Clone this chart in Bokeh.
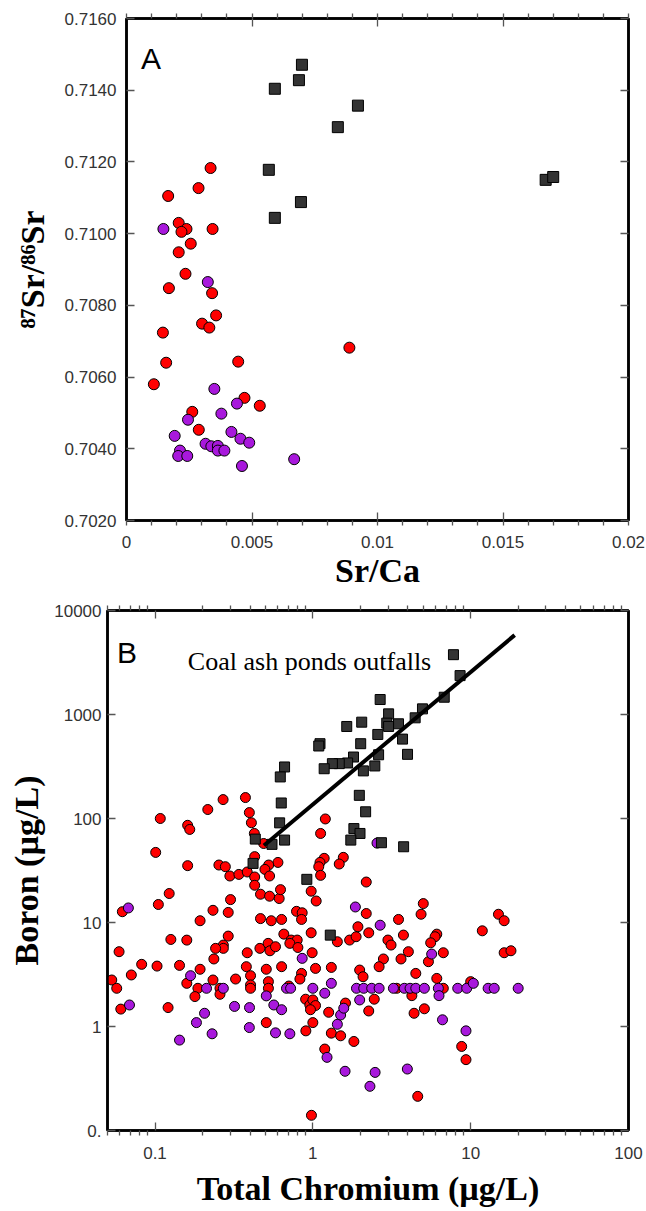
from bokeh.plotting import figure
from bokeh.models import (FixedTicker, CustomJSTickFormatter, Label, LinearAxis,
                          LogAxis, Range1d)
from bokeh.embed import file_html
from bokeh.resources import INLINE

# ---------------- Panel A data (Sr/Ca vs 87Sr/86Sr) ----------------
a_coal_srca = [0.00591, 0.00687, 0.00699, 0.00922, 0.00842, 0.00567, 0.00695, 0.00591, 0.0167, 0.0170]
a_coal_sr = [0.71404, 0.71428, 0.71471, 0.71357, 0.71297, 0.71178, 0.71088, 0.71044, 0.71150, 0.71158]

a_red_srca = [0.00335, 0.00287, 0.00166, 0.00208, 0.00239, 0.00219, 0.00343, 0.00256, 0.00208,
              0.00235, 0.00169, 0.00341, 0.00357, 0.00301, 0.00330, 0.00145, 0.00158, 0.00445,
              0.00109, 0.00888, 0.00470, 0.00531, 0.00262, 0.00288]
a_red_sr = [0.71183, 0.71127, 0.71105, 0.71030, 0.71013, 0.71005, 0.71013, 0.70972, 0.70948,
            0.70888, 0.70848, 0.70834, 0.70772, 0.70749, 0.70738, 0.70724, 0.70640, 0.70643,
            0.70580, 0.70682, 0.70542, 0.70520, 0.70503, 0.70453]

a_pur_srca = [0.00147, 0.00324, 0.00350, 0.00440, 0.00378, 0.00245, 0.00192, 0.00418, 0.00454,
              0.00489, 0.00315, 0.00338, 0.00364, 0.00364, 0.00390, 0.00213, 0.00206, 0.00242,
              0.00460, 0.00668]
a_pur_sr = [0.71013, 0.70865, 0.70567, 0.70526, 0.70498, 0.70481, 0.70436, 0.70447, 0.70428,
            0.70417, 0.70414, 0.70407, 0.70408, 0.70395, 0.70395, 0.70395, 0.70380, 0.70380,
            0.70352, 0.70371]

a_x_ticks = [0, 0.005, 0.01, 0.015, 0.02]
a_x_minor = [0, 0.001, 0.002, 0.003, 0.004, 0.005, 0.006, 0.007, 0.008, 0.009, 0.01,
             0.011, 0.012, 0.013, 0.014, 0.015, 0.016, 0.017, 0.018, 0.019, 0.02]
a_y_ticks = [0.702, 0.704, 0.706, 0.708, 0.710, 0.712, 0.714, 0.716]

# ---------------- Panel B data (Total Cr vs Boron) ----------------
b_coal_cr = [2.04, 1.64, 1.11, 1.09, 2.01, 1.81, 1.66, 1.47, 1.33, 1.18, 2.09, 0.662, 0.622, 0.631,
             1.97, 2.16, 0.616, 1.82, 1.99, 1.74, 0.432, 0.551, 0.662, 0.418, 7.78, 8.57, 6.8,
             4.95, 4.45, 2.67, 3.02, 2.94, 3.49, 3.02, 3.7, 2.58, 3.98, 2.61, 2.47, 2.72, 3.76,
             0.916, 1.29]
b_coal_b = [844, 767, 524, 498, 524, 390, 342, 337, 337, 301, 287, 313, 251, 141,
            167, 116, 90.8, 80, 71.8, 62, 63.4, 56.4, 62, 37, 3760, 2365, 1466,
            1133, 929, 1393, 1014, 826, 814, 768, 580, 643, 414, 410, 320, 58.5, 53.5,
            26, 7.56]

b_red_cr = [0.108, 0.216, 0.270, 0.374, 0.396, 0.408, 0.161, 0.166, 0.426, 1.2, 1.12, 0.488,
            0.101, 0.428, 0.601, 0.525, 0.254, 0.279, 0.161, 1.18, 1.11, 1.09, 1.56, 1.47,
            0.298, 0.34, 0.384, 0.428, 0.428, 0.497, 0.532, 0.466, 0.532, 0.612, 0.624, 1.12,
            0.976, 1.05, 2.18, 0.123, 0.105, 0.0621, 0.301, 0.233, 0.291, 0.193, 0.466, 0.545,
            0.634, 0.788, 0.856, 0.848, 2.18, 0.126, 0.159, 0.291, 0.271, 0.271, 0.242, 0.236,
            0.384, 0.462, 0.521, 0.535, 0.58, 0.655, 0.729, 0.796, 0.715, 0.804, 0.976, 0.99,
            1.43, 1.71, 1.88, 1.93, 2.26, 0.0592, 0.0823, 0.103, 0.143, 0.0708, 0.0532, 0.0572,
            0.0607, 0.121, 0.159, 0.193, 0.187, 0.179, 0.233, 0.258, 0.258, 0.324, 0.379, 0.403,
            0.403, 0.403, 0.507, 0.523, 0.523, 0.634, 1.04, 0.848, 0.828, 0.705, 1.31, 0.9,
            0.957, 1.0, 1.04, 0.966, 0.507, 0.903, 1.0, 1.26, 1.31, 1.5, 1.61, 1.82, 1.19, 0.98,
            1.98, 2.08, 2.26, 3.49, 5.01, 4.85, 3.75, 2.99, 3.13, 4.03, 6.1, 5.95, 5.58, 6.71,
            5.4, 2.8, 2.63, 3.62, 4.49, 6.1, 11.85, 15.0, 16.3, 16.3, 18.0, 10.0, 3.4, 6.71,
            4.24, 2.45, 5.09, 4.38, 8.77, 9.34, 4.62]
b_red_b = [100, 122, 152, 159, 114, 91, 86, 78.5, 71.8, 99, 71.8, 57.5,
           47.2, 43, 37.8, 35.7, 35.7, 34.4, 35.2, 41.4, 37.8, 34.4, 42.3, 36.5,
           28, 29, 30.6, 27.4, 22.8, 32.4, 28, 18.7, 17.9, 17.0, 20.7, 28.4,
           20, 16.1, 24.5, 19, 14.9, 12.7, 16.6, 13.1, 12.5, 10.4, 10.9, 10.4,
           10.7, 12.8, 12.4, 10.7, 12.2, 6.87, 6.77, 7.4, 6.07, 5.64, 5.64, 4.46,
           5.12, 5.64, 6.3, 5.35, 5.85, 7.73, 6.78, 6.78, 6.3, 5.75, 7.96, 5.12,
           6.53, 6.78, 7.3, 9.1, 7.96, 5.24, 3.96, 3.81, 3.87, 3.13, 2.8, 2.33,
           1.47, 1.52, 2.6, 3.55, 2.33, 1.94, 2.8, 2.33, 2.04, 2.86, 3.76, 3.08,
           2.51, 2.33, 3.55, 2.7, 2.33, 3.76, 3.62, 3.24, 2.86, 2.45, 3.7, 1.83,
           1.61, 1.8, 1.59, 1.45, 1.09, 0.908, 1.09, 1.37, 0.863, 0.814, 1.68, 0.718, 0.607, 0.140,
           3.49, 3.01, 1.41, 10.7, 15.2, 12.0, 7.57, 6.78, 6.07, 5.24, 7.73, 7.3, 6.38, 5.12,
           4.2, 4.46, 3.76, 4.46, 3.24, 2.9, 8.32, 12.0, 10.4, 5.12, 5.35, 2.7, 2.33, 2.33,
           1.98, 1.83, 1.48, 1.34, 0.643, 0.48, 0.213]

b_pur_cr = [0.0678, 0.0689, 0.168, 0.212, 0.271, 0.856, 0.681, 0.723, 1.0, 1.19, 1.31, 0.507,
            0.566, 0.634, 0.319, 0.397, 0.206, 0.183, 0.23, 0.143, 0.396, 0.58, 0.715, 1.43,
            1.5, 1.57, 1.23, 1.6, 1.86, 1.89, 2.1, 1.98, 2.3, 2.67, 5.66, 2.36, 2.63, 3.24,
            3.8, 4.13, 4.49, 5.09, 6.24, 8.28, 9.44, 12.9, 14.1, 20.0, 10.4, 6.3, 6.63, 9.34,
            2.48, 3.97, 2.55]
b_pur_b = [13.8, 1.61, 3.08, 2.33, 2.33, 4.52, 2.33, 2.33, 2.33, 2.09, 2.6, 1.97,
           1.61, 1.45, 1.56, 1.52, 1.34, 1.09, 0.851, 0.74, 0.977, 0.869, 0.851, 1.05,
           1.29, 1.5, 0.505, 0.371, 14.1, 2.33, 2.33, 1.8, 0.266, 9.42, 4.97, 2.33, 2.33, 2.33,
           2.33, 2.33, 2.33, 2.33, 2.33, 2.33, 2.33, 2.33, 2.33, 2.33, 2.6, 1.98, 1.16, 0.908,
           0.362, 0.39, 58]

b_fit_cr = [0.49, 19.0]
b_fit_b = [55, 5800]

b_x_ticks = [0.1, 1, 10, 100]
b_x_minor = [0.05, 0.06, 0.07, 0.08, 0.09, 0.2, 0.3, 0.4, 0.5, 0.6, 0.7, 0.8, 0.9,
             2, 3, 4, 5, 6, 7, 8, 9, 20, 30, 40, 50, 60, 70, 80, 90]
b_y_ticks = [0.1, 1, 10, 100, 1000, 10000]

RED = "#ff0000"
PURPLE = "#a818dc"
DARK = "#333333"
TICK_COL = "#555555"
LABEL_COL = "#333333"


def style_axis(ax, minor=True, labels=True, label_standoff=8):
    ax.axis_line_color = "black"
    ax.axis_line_width = 2.5
    ax.major_tick_in = 8
    ax.major_tick_out = 0
    ax.minor_tick_in = 0
    ax.minor_tick_out = 5 if minor else 0
    ax.major_tick_line_color = TICK_COL
    ax.major_tick_line_width = 1.3
    ax.minor_tick_line_color = TICK_COL if minor else None
    ax.minor_tick_line_width = 1.3
    if labels:
        ax.major_label_text_font = "Liberation Sans"
        ax.major_label_text_font_size = "17px"
        ax.major_label_text_color = LABEL_COL
        ax.major_label_standoff = label_standoff
    else:
        ax.major_label_text_font_size = "0px"
        ax.major_label_text_color = None
        ax.major_label_standoff = 0
    ax.axis_label_text_font = "Liberation Serif"
    ax.axis_label_text_font_style = "bold"
    ax.axis_label_text_font_size = "34px"
    ax.axis_label_text_color = "black"


# ---------------- Panel A ----------------
pA = figure(width=646, height=595, x_range=Range1d(0, 0.02), y_range=Range1d(0.702, 0.716),
            output_backend="svg", toolbar_location=None,
            min_border_left=126, min_border_right=18, min_border_top=18, min_border_bottom=75)
pA.grid.visible = False
pA.outline_line_color = "black"
pA.outline_line_width = 2.5

fmt_ax = CustomJSTickFormatter(code="return tick === 0 ? '0' : String(parseFloat(tick.toFixed(3)));")
fmt_ay = CustomJSTickFormatter(code="return tick.toFixed(4);")

xa = pA.xaxis[0]
xa.ticker = FixedTicker(ticks=a_x_ticks, minor_ticks=a_x_minor)
xa.formatter = fmt_ax
xa.axis_label = "Sr/Ca"
style_axis(xa, minor=True, labels=True, label_standoff=10)
xa.axis_label_standoff = 1

ya = pA.yaxis[0]
ya.ticker = FixedTicker(ticks=a_y_ticks)
ya.formatter = fmt_ay
ya.axis_label = "\u2078\u2077Sr/\u2078\u2076Sr"
style_axis(ya, minor=False, labels=True, label_standoff=10)
ya.axis_label_standoff = 11

top_a = LinearAxis(ticker=FixedTicker(ticks=a_x_ticks, minor_ticks=a_x_minor), formatter=fmt_ax)
style_axis(top_a, minor=True, labels=False)
pA.add_layout(top_a, "above")
right_a = LinearAxis(ticker=FixedTicker(ticks=a_y_ticks), formatter=fmt_ay)
style_axis(right_a, minor=False, labels=False)
pA.add_layout(right_a, "right")

pA.scatter(a_red_srca, a_red_sr, marker="circle", size=11, fill_color=RED,
           line_color="black", line_width=1)
pA.scatter(a_pur_srca, a_pur_sr, marker="circle", size=11, fill_color=PURPLE,
           line_color="black", line_width=1)
pA.scatter(a_coal_srca, a_coal_sr, marker="square", size=11, fill_color=DARK,
           line_color="black", line_width=1)

pA.add_layout(Label(x=0.00058, y=0.71488, text="A", text_font="Liberation Sans",
                    text_font_size="30px", text_color="black", text_baseline="alphabetic"))

# ---------------- Panel B ----------------
pB = figure(width=646, height=616, x_axis_type="log", y_axis_type="log",
            x_range=Range1d(0.05, 100), y_range=Range1d(0.1, 10000),
            output_backend="svg", toolbar_location=None,
            min_border_left=107, min_border_right=18, min_border_top=15, min_border_bottom=81)
pB.grid.visible = False
pB.outline_line_color = "black"
pB.outline_line_width = 2.5

fmt_bx = CustomJSTickFormatter(code="return tick < 0.5 ? tick.toFixed(1) : String(Math.round(tick));")
fmt_by = CustomJSTickFormatter(code="return tick < 0.5 ? '0.' : String(Math.round(tick));")

xb = pB.xaxis[0]
xb.ticker = FixedTicker(ticks=b_x_ticks, minor_ticks=b_x_minor)
xb.formatter = fmt_bx
xb.axis_label = "Total Chromium (\u00b5g/L)"
style_axis(xb, minor=True, labels=True, label_standoff=11)
xb.axis_label_standoff = 8

yb = pB.yaxis[0]
yb.ticker = FixedTicker(ticks=b_y_ticks)
yb.formatter = fmt_by
yb.axis_label = "Boron (\u00b5g/L)"
style_axis(yb, minor=False, labels=True, label_standoff=6)
yb.axis_label_standoff = 6

top_b = LogAxis(ticker=FixedTicker(ticks=b_x_ticks, minor_ticks=b_x_minor), formatter=fmt_bx)
style_axis(top_b, minor=True, labels=False)
pB.add_layout(top_b, "above")
right_b = LogAxis(ticker=FixedTicker(ticks=b_y_ticks), formatter=fmt_by)
style_axis(right_b, minor=False, labels=False)
pB.add_layout(right_b, "right")

pB.scatter(b_red_cr, b_red_b, marker="circle", size=10, fill_color=RED,
           line_color="black", line_width=1)
pB.scatter(b_pur_cr, b_pur_b, marker="circle", size=10, fill_color=PURPLE,
           line_color="black", line_width=1)
pB.scatter(b_coal_cr, b_coal_b, marker="square", size=10, fill_color=DARK,
           line_color="black", line_width=1)
pB.line(b_fit_cr, b_fit_b, line_color="black", line_width=4)

pB.add_layout(Label(x=0.0575, y=3950, text="B", text_font="Liberation Sans",
                    text_font_size="30px", text_color="black", text_baseline="alphabetic"))
pB.add_layout(Label(x=0.1615, y=3222, text="Coal ash ponds outfalls", text_font="Liberation Serif",
                    text_font_size="26px", text_color="black", text_baseline="alphabetic"))

# two independent roots stacked on the page (frames are not aligned to each other)
open("out.html", "w").write(file_html([pA, pB], INLINE))
